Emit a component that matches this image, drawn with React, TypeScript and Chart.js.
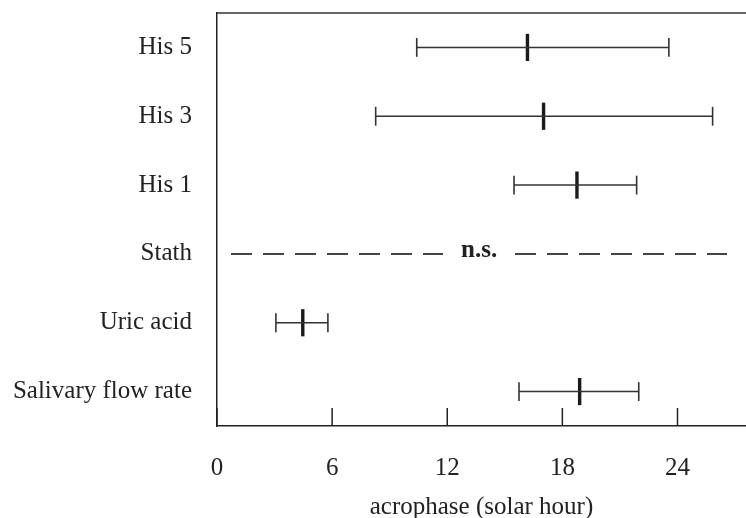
import React, { useEffect, useRef } from 'react';
import { Chart, registerables } from 'chart.js';

Chart.register(...registerables);

// ---- data ----
const categories = ['His 5', 'His 3', 'His 1', 'Stath', 'Uric acid', 'Salivary flow rate'];
const acrophase: (number | null)[] = [16.18, 17.02, 18.76, null, 4.47, 18.9];
const lowerCI: (number | null)[] = [10.41, 8.27, 15.48, null, 3.07, 15.74];
const upperCI: (number | null)[] = [23.55, 25.83, 21.87, null, 5.78, 21.98];
const xTicks = [0, 6, 12, 18, 24];
const xMin = 0;
const xMax = 27.57;
const xTitle = 'acrophase (solar hour)';
const nsCategory = 'Stath';
const nsLabel = 'n.s.';
const nsLabelX = 13.66;
const nsLeftSegment = [0.73, 11.78];
const nsRightSegment = [15.53, 26.58];

const FONT = "'Liberation Serif', 'Times New Roman', serif";
const INK = '#222';

const framePlugin = {
  id: 'frame',
  afterDraw(chart: any) {
    const { ctx, chartArea } = chart;
    const xs = chart.scales.x;
    ctx.save();
    ctx.strokeStyle = '#333';
    ctx.lineWidth = 1.5;
    ctx.beginPath();
    ctx.moveTo(chartArea.left, chartArea.top);
    ctx.lineTo(chartArea.right, chartArea.top);
    ctx.stroke();
    ctx.strokeStyle = INK;
    for (const v of xTicks) {
      const px = xs.getPixelForValue(v);
      ctx.beginPath();
      ctx.moveTo(px, chartArea.bottom);
      ctx.lineTo(px, chartArea.bottom - 18);
      ctx.stroke();
    }
    ctx.restore();
  },
};

const nsPlugin = {
  id: 'nsText',
  afterDatasetsDraw(chart: any) {
    const { ctx } = chart;
    const px = chart.scales.x.getPixelForValue(nsLabelX);
    const py = chart.scales.y.getPixelForValue(categories.indexOf(nsCategory));
    ctx.save();
    ctx.font = `bold 25px ${FONT}`;
    ctx.fillStyle = INK;
    ctx.textAlign = 'center';
    ctx.textBaseline = 'alphabetic';
    ctx.fillText(nsLabel, px, py + 3);
    ctx.restore();
  },
};

const zeroPadding = (s: any) => {
  s.paddingTop = 0;
  s.paddingBottom = 0;
  s.paddingLeft = 0;
  s.paddingRight = 0;
};

export default function App() {
  const ref = useRef<HTMLCanvasElement>(null);

  useEffect(() => {
    if (!ref.current) return;

    const whiskers = categories
      .map((c, i) =>
        lowerCI[i] == null
          ? null
          : {
              type: 'line' as const,
              data: [
                { x: lowerCI[i], y: c },
                { x: upperCI[i], y: c },
              ],
              borderColor: '#333',
              borderWidth: 1.5,
              pointRadius: 0,
              showLine: true,
            }
      )
      .filter(Boolean) as any[];

    const capData: any[] = [];
    categories.forEach((c, i) => {
      if (lowerCI[i] != null) {
        capData.push({ x: lowerCI[i], y: c });
        capData.push({ x: upperCI[i], y: c });
      }
    });
    const centerData = categories
      .map((c, i) => (acrophase[i] == null ? null : { x: acrophase[i], y: c }))
      .filter(Boolean);

    const chart = new Chart(ref.current, {
      type: 'scatter',
      data: {
        labels: categories,
        datasets: [
          ...whiskers,
          {
            type: 'scatter',
            data: capData,
            pointStyle: 'line',
            rotation: 90,
            radius: 9.4,
            borderWidth: 1.6,
            borderColor: '#333',
            backgroundColor: '#333',
          },
          {
            type: 'scatter',
            data: centerData,
            pointStyle: 'line',
            rotation: 90,
            radius: 13.6,
            borderWidth: 3.4,
            borderColor: '#1a1a1a',
            backgroundColor: '#1a1a1a',
          },
          {
            type: 'line',
            data: nsLeftSegment.map((v) => ({ x: v, y: nsCategory })),
            borderColor: '#444',
            borderWidth: 2,
            borderDash: [21, 11],
            pointRadius: 0,
            showLine: true,
          },
          {
            type: 'line',
            data: nsRightSegment.map((v) => ({ x: v, y: nsCategory })),
            borderColor: '#444',
            borderWidth: 2,
            borderDash: [21, 11],
            pointRadius: 0,
            showLine: true,
          },
        ],
      } as any,
      options: {
        animation: false,
        responsive: false,
        events: [],
        layout: { autoPadding: false, padding: { top: 13, right: 0, bottom: 0, left: 0 } },
        plugins: {
          legend: { display: false },
          tooltip: { enabled: false },
        },
        scales: {
          x: {
            type: 'linear',
            min: xMin,
            max: xMax,
            afterBuildTicks: (s: any) => {
              s.ticks = xTicks.map((v) => ({ value: v }));
            },
            afterFit: (s: any) => {
              s.height = 92;
              zeroPadding(s);
            },
            grid: { display: false, drawTicks: false },
            border: { display: true, color: INK, width: 1.5 },
            ticks: {
              font: { family: FONT, size: 25 },
              color: INK,
              padding: 27,
              maxRotation: 0,
            },
            title: {
              display: true,
              text: xTitle,
              font: { family: FONT, size: 25 },
              color: INK,
              padding: { top: 0, bottom: -4 },
            },
          },
          y: {
            type: 'category',
            labels: categories,
            offset: true,
            afterFit: (s: any) => {
              s.width = 217;
              zeroPadding(s);
            },
            grid: { display: false, drawTicks: false },
            border: { display: true, color: INK, width: 1.5 },
            ticks: {
              font: { family: FONT, size: 25 },
              color: INK,
              padding: 25,
            },
          },
        },
      } as any,
      plugins: [framePlugin, nsPlugin],
    });

    return () => chart.destroy();
  }, []);

  return (
    <div style={{ position: 'fixed', left: 0, top: 0, width: 746, height: 518, background: '#fff' }}>
      <canvas ref={ref} width={746} height={518} style={{ width: 746, height: 518, display: 'block' }} />
    </div>
  );
}
